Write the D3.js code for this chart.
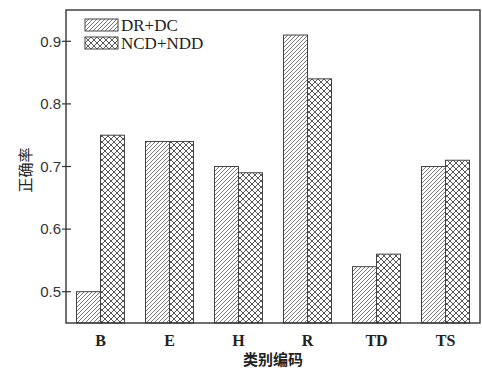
<!DOCTYPE html>
<html>
<head>
<meta charset="utf-8">
<script src="https://cdn.jsdelivr.net/npm/d3@7"></script>
<style>
  body { margin: 0; background: #fff; }
</style>
</head>
<body>
<div id="plotDiv"></div>
<script>
// --- Data ---
const categories = ["B", "E", "H", "R", "TD", "TS"];
const seriesNames = ["DR+DC", "NCD+NDD"];
const drdc = [0.50, 0.74, 0.70, 0.91, 0.54, 0.70];
const ncdndd = [0.75, 0.74, 0.69, 0.84, 0.56, 0.71];
const yTicks = [0.5, 0.6, 0.7, 0.8, 0.9];

// --- Definitions ---
const W = 482, H = 368;
const margin = {top: 10, right: 2, bottom: 45, left: 66};
const width = W - margin.left - margin.right;
const height = H - margin.top - margin.bottom;
const ink = "#333";

const svg = d3.select("#plotDiv")
  .append("svg")
  .attr("width", W)
  .attr("height", H);

// hatch patterns
const defs = svg.append("defs");
const diag = defs.append("pattern")
  .attr("id", "diag")
  .attr("patternUnits", "userSpaceOnUse")
  .attr("width", 4).attr("height", 4);
diag.append("rect").attr("width", 4).attr("height", 4).attr("fill", "#fff");
diag.append("path")
  .attr("d", "M-1,1 l2,-2 M0,4 l4,-4 M3,5 l2,-2")
  .attr("stroke", "#555").attr("stroke-width", 0.8);

const cross = defs.append("pattern")
  .attr("id", "cross")
  .attr("patternUnits", "userSpaceOnUse")
  .attr("width", 6).attr("height", 6);
cross.append("rect").attr("width", 6).attr("height", 6).attr("fill", "#fff");
cross.append("path")
  .attr("d", "M0,0 L6,6 M6,0 L0,6 M-3,3 L0,6 M3,-3 L6,0")
  .attr("stroke", "#444").attr("stroke-width", 0.9);

const fills = ["url(#diag)", "url(#cross)"];

const g = svg.append("g")
  .attr("transform", `translate(${margin.left},${margin.top})`);

// --- Scales ---
const x = d3.scaleBand().domain(categories).range([0, width]).padding(0);
const xs = d3.scaleBand().domain(seriesNames).range([x.bandwidth() / 2 - 24, x.bandwidth() / 2 + 24]);
const y = d3.scaleLinear().domain([0.45, 0.95]).range([height, 0]);

// --- Bars ---
const rows = categories.map((c, i) => ({cat: c, vals: [drdc[i], ncdndd[i]]}));
g.selectAll("g.grp")
  .data(rows)
  .join("g")
  .attr("class", "grp")
  .attr("transform", d => `translate(${x(d.cat)},0)`)
  .selectAll("rect")
  .data(d => d.vals.map((v, k) => ({k, v})))
  .join("rect")
  .attr("x", d => xs(seriesNames[d.k]))
  .attr("width", xs.bandwidth())
  .attr("y", d => y(d.v))
  .attr("height", d => height - y(d.v))
  .attr("fill", d => fills[d.k])
  .attr("stroke", "#444")
  .attr("stroke-width", 1);

// --- Frame ---
g.append("rect")
  .attr("width", width).attr("height", height)
  .attr("fill", "none").attr("stroke", ink).attr("stroke-width", 1.4);

// --- Y axis ---
const yAxis = g.append("g").call(d3.axisLeft(y).tickValues(yTicks).tickSize(0).tickPadding(5).tickFormat(d3.format(".1f")));
yAxis.select(".domain").remove();
yAxis.selectAll("text")
  .attr("font-family", "'Liberation Sans', Arial, sans-serif")
  .attr("font-size", 15).attr("fill", "#333");
g.selectAll("line.ytick")
  .data(yTicks)
  .join("line")
  .attr("class", "ytick")
  .attr("x1", -4).attr("x2", 5)
  .attr("y1", d => y(d)).attr("y2", d => y(d))
  .attr("stroke", ink).attr("stroke-width", 1.2);

// --- X axis ---
const xAxis = g.append("g")
  .attr("transform", `translate(0,${height})`)
  .call(d3.axisBottom(x).tickSize(0).tickPadding(12));
xAxis.select(".domain").remove();
xAxis.selectAll("text")
  .attr("font-family", "'Liberation Serif', 'Times New Roman', serif")
  .attr("font-size", 16).attr("font-weight", "bold").attr("fill", "#222");

// --- Axis titles ---
svg.append("text")
  .attr("x", margin.left + width / 2).attr("y", 365)
  .attr("text-anchor", "middle")
  .attr("font-family", "'Noto Sans CJK SC', sans-serif")
  .attr("font-size", 15).attr("font-weight", "bold").attr("fill", "#222")
  .text("类别编码");

svg.append("text")
  .attr("transform", "translate(31,170) rotate(-90)")
  .attr("text-anchor", "middle")
  .attr("font-family", "'Noto Sans CJK SC', sans-serif")
  .attr("font-size", 15).attr("fill", "#222")
  .text("正确率");

// --- Legend ---
const legend = g.append("g").attr("transform", "translate(19,9)");
const li = legend.selectAll("g")
  .data(seriesNames)
  .join("g")
  .attr("transform", (d, i) => `translate(0,${i * 18})`);
li.append("rect")
  .attr("width", 33).attr("height", 12)
  .attr("fill", (d, i) => fills[i])
  .attr("stroke", "#444").attr("stroke-width", 1);
li.append("text")
  .attr("x", 36).attr("y", 12)
  .attr("font-family", "'Liberation Serif', 'Times New Roman', serif")
  .attr("font-size", 17).attr("fill", "#222")
  .text(d => d);
</script>
</body>
</html>
